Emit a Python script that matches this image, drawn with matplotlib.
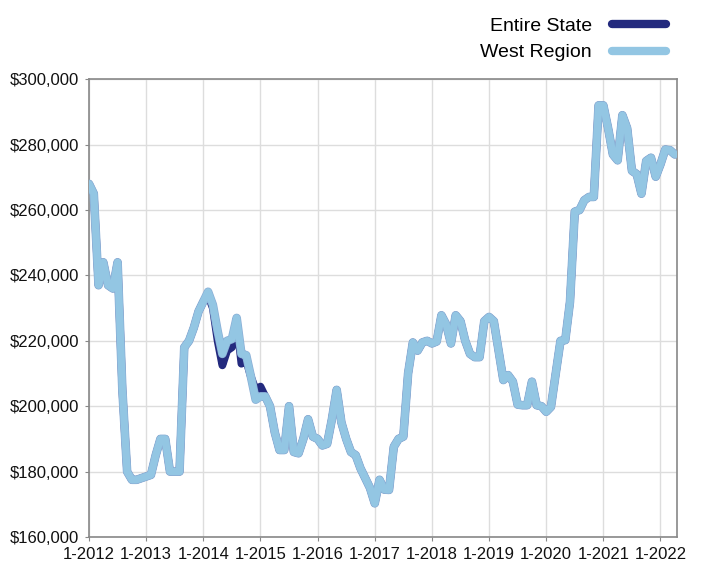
import matplotlib.pyplot as plt
import matplotlib.patheffects as pe
from matplotlib.ticker import FuncFormatter

plt.rcParams['font.family'] = ['Liberation Sans', 'DejaVu Sans']

# monthly median price (thousands of $), Jan 2012 .. Apr 2022
west = [268, 265, 237, 244, 237, 236, 244, 205, 180, 177.5,
        177.5, 178, 178.5, 179, 185, 190, 190, 180, 180, 180,
        218, 220, 224, 229, 232, 235, 231, 223, 216, 220,
        220.5, 227, 216, 215.6, 209, 202, 203, 203, 200, 192,
        186.6, 186.6, 200, 186, 185.6, 190, 196, 190.7, 190, 188,
        188.5, 196, 205, 195, 190, 186, 185, 181, 178, 175,
        170.3, 177.5, 174.5, 174.4, 187.6, 190, 190.7, 210, 219.5, 217,
        219.5, 220, 219.2, 219.8, 227.8, 225, 219.2, 227.8, 226, 220,
        216, 215, 215, 226, 227.3, 226, 217, 208, 209.5, 207.5,
        200.5, 200.3, 200.3, 207.5, 200.3, 200, 198.3, 199.8, 210, 220,
        220.2, 232, 259.5, 260, 263, 264, 264, 292, 292, 285,
        277, 275.2, 289, 285, 272, 271, 265, 275, 276, 270.2,
        274, 278.5, 278.3, 277]

state = list(west)
state_diff = {24: 232, 25: 234, 26: 230, 27: 220, 28: 212.5, 29: 217,
              30: 218, 31: 226, 32: 213, 33: 214, 34: 209, 35: 205,
              36: 206, 37: 203}
for k, v in state_diff.items():
    state[k] = v

months = list(range(len(west)))
tick_pos = list(range(0, 121, 12))
tick_labels = ["1-%d" % (2012 + i) for i in range(11)]

fig = plt.figure(figsize=(7.01, 5.62), dpi=100)
ax = fig.add_axes([0.127, 0.0445, 0.839, 0.8145])

ax.plot(months, [v * 1000 for v in state], color='#232a7e', lw=5.6,
        solid_capstyle='round', solid_joinstyle='round', label='Entire State', zorder=2)
ax.plot(months, [v * 1000 for v in west], color='#93c6e3', lw=5.2,
        solid_capstyle='round', solid_joinstyle='round', label='West Region', zorder=3,
        path_effects=[pe.Stroke(linewidth=6.2, foreground='#8aaed6'), pe.Normal()])

ax.set_xlim(0, 123.5)
ax.set_ylim(160000, 300000)
ax.set_xticks(tick_pos)
ax.set_xticklabels(tick_labels)
ax.set_yticks(range(160000, 300001, 20000))
ax.yaxis.set_major_formatter(FuncFormatter(lambda v, p: "${:,.0f}".format(v)))
ax.tick_params(labelsize=12, length=3, color='#888888', colors='#111111')
ax.tick_params(axis='x', pad=4)
ax.tick_params(axis='y', pad=4)
ax.grid(color='#dddddd', lw=1)
ax.set_axisbelow(True)
for s in ax.spines.values():
    s.set_color('#888888')
    s.set_linewidth(1.2)

leg = fig.legend(loc='upper right', bbox_to_anchor=(0.975, 1.0), frameon=False,
                 markerfirst=False, fontsize=14, handlelength=2.8,
                 labelspacing=0.45, handletextpad=1.0)
for h in leg.get_lines():
    h.set_linewidth(6)
    h.set_path_effects([])

fig.savefig('out.png', dpi=100)
